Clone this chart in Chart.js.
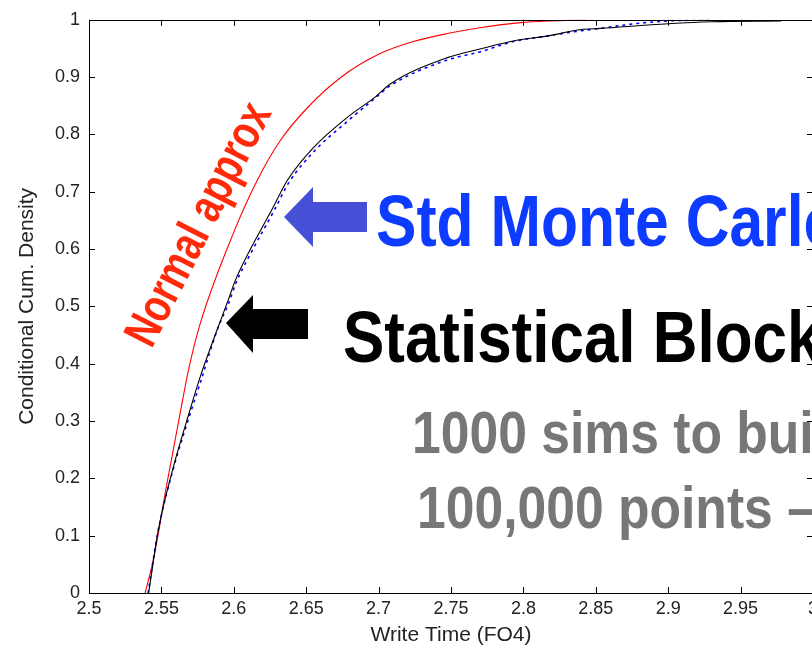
<!DOCTYPE html>
<html>
<head>
<meta charset="utf-8">
<script src="https://cdn.jsdelivr.net/npm/chart.js@4/dist/chart.umd.min.js"></script>
<style>
html,body{margin:0;padding:0;background:#fff;overflow:hidden;width:812px;height:652px;}
canvas{display:block;}
</style>
</head>
<body>
<canvas id="c" width="860" height="652"></canvas>
<script>
// ---- data ----
const xTicks = [2.5, 2.55, 2.6, 2.65, 2.7, 2.75, 2.8, 2.85, 2.9, 2.95, 3];
const xTickLabels = ["2.5","2.55","2.6","2.65","2.7","2.75","2.8","2.85","2.9","2.95","3"];
const yTicks = [0, 0.1, 0.2, 0.3, 0.4, 0.5, 0.6, 0.7, 0.8, 0.9, 1];
const yTickLabels = ["0","0.1","0.2","0.3","0.4","0.5","0.6","0.7","0.8","0.9","1"];

// Statistical Blockade (black)
const blockadeX = [2.5412, 2.5479, 2.5583, 2.5676, 2.5768, 2.5883, 2.596, 2.601, 2.611, 2.627, 2.637, 2.655, 2.678, 2.698, 2.708, 2.7476, 2.770, 2.793, 2.817, 2.84, 2.853, 2.90, 2.93, 2.978];
const blockadeY = [0, 0.110, 0.220, 0.301, 0.377, 0.458, 0.510, 0.545, 0.5976, 0.672, 0.720, 0.777, 0.829, 0.866, 0.888, 0.934, 0.949, 0.963, 0.972, 0.983, 0.985, 0.993, 0.9965, 0.998];

// Std Monte Carlo (blue, dashed)
const monteCarloX = [2.5408, 2.5477, 2.5588, 2.568, 2.5775, 2.589, 2.5965, 2.6015, 2.612, 2.628, 2.638, 2.656, 2.679, 2.697, 2.708, 2.7476, 2.770, 2.793, 2.817, 2.84, 2.853, 2.88, 2.90, 2.93];
const monteCarloY = [0, 0.108, 0.222, 0.298, 0.372, 0.462, 0.506, 0.541, 0.594, 0.668, 0.716, 0.772, 0.824, 0.862, 0.885, 0.930, 0.944, 0.962, 0.972, 0.981, 0.985, 0.994, 0.998, 1.0];

// Normal approx (red)
const normalX = [2.5387, 2.5434, 2.5479, 2.5526, 2.5572, 2.5629, 2.5687, 2.5768, 2.5996, 2.6162, 2.632, 2.651, 2.6736, 2.701, 2.724, 2.7476, 2.770, 2.798, 2.817, 2.843];
const normalY = [0, 0.046, 0.104, 0.174, 0.236, 0.313, 0.389, 0.470, 0.627, 0.720, 0.789, 0.847, 0.899, 0.941, 0.962, 0.976, 0.986, 0.995, 0.998, 1.0];

const toPts = (xs, ys) => xs.map((x, i) => ({x: x, y: ys[i]}));

const PLOT = {left: 89, top: 19, right: 813, bottom: 593};
const CW = 860, CH = 652;

const boxPlugin = {
  id: 'matlabBox',
  afterDatasetsDraw(chart) {
    const {ctx, chartArea: a, scales} = chart;
    ctx.save();
    ctx.strokeStyle = '#000';
    ctx.lineWidth = 1;
    ctx.beginPath();
    ctx.rect(Math.round(a.left) + 0.5, Math.round(a.top) + 0.5, Math.round(a.right - a.left), Math.round(a.bottom - a.top));
    ctx.stroke();
    const tl = 6;
    ctx.beginPath();
    xTicks.forEach(v => {
      const px = Math.round(scales.x.getPixelForValue(v)) + 0.5;
      ctx.moveTo(px, a.bottom); ctx.lineTo(px, a.bottom - tl);
      ctx.moveTo(px, a.top); ctx.lineTo(px, a.top + tl);
    });
    yTicks.forEach(v => {
      const py = Math.round(scales.y.getPixelForValue(v)) + 0.5;
      ctx.moveTo(a.left, py); ctx.lineTo(a.left + tl, py);
      ctx.moveTo(a.right, py); ctx.lineTo(a.right - tl, py);
    });
    ctx.stroke();
    ctx.restore();
  }
};

function drawText(ctx, text, x, y, font, color, sx) {
  ctx.save();
  ctx.translate(x, y);
  ctx.scale(sx, 1);
  ctx.font = font;
  ctx.fillStyle = color;
  ctx.textAlign = 'left';
  ctx.textBaseline = 'alphabetic';
  ctx.fillText(text, 0, 0);
  ctx.restore();
}

function drawArrow(ctx, tipX, tipY, headBackX, headTop, headBottom, shaftEndX, shaftTop, shaftBottom, color) {
  ctx.save();
  ctx.fillStyle = color;
  ctx.beginPath();
  ctx.moveTo(tipX, tipY);
  ctx.lineTo(headBackX, headTop);
  ctx.lineTo(headBackX, shaftTop);
  ctx.lineTo(shaftEndX, shaftTop);
  ctx.lineTo(shaftEndX, shaftBottom);
  ctx.lineTo(headBackX, shaftBottom);
  ctx.lineTo(headBackX, headBottom);
  ctx.closePath();
  ctx.fill();
  ctx.restore();
}

const annotPlugin = {
  id: 'annotations',
  afterDraw(chart) {
    const ctx = chart.ctx;
    const bold = (s) => 'bold ' + s + 'px "Liberation Sans", Arial, sans-serif';
    // rotated red label
    ctx.save();
    ctx.translate(200, 225);
    ctx.rotate(-63 * Math.PI / 180);
    ctx.scale(0.785, 1);
    ctx.font = bold(48);
    ctx.fillStyle = '#ff2a0a';
    ctx.textAlign = 'center';
    ctx.textBaseline = 'middle';
    ctx.fillText('Normal approx', 0, 0);
    ctx.restore();

    drawArrow(ctx, 284, 217, 313, 187, 247, 367, 202, 232, '#4650d6');
    drawArrow(ctx, 226, 323, 253, 295, 353, 308, 309, 339, '#000000');

    drawText(ctx, 'Std Monte Carlo', 376, 246, bold(73), '#0d3bff', 0.83);
    drawText(ctx, 'Statistical Blockade', 343, 362, bold(72), '#000000', 0.86);
    drawText(ctx, '1000 sims to build', 412, 453, bold(59), '#777777', 0.875);
    drawText(ctx, '100,000 points \u2013', 417, 528, bold(59), '#777777', 0.875);
  }
};

const tickFont = {family: '"Liberation Sans", Arial, sans-serif', size: 18};
const titleFont = {family: '"Liberation Sans", Arial, sans-serif', size: 21};

new Chart(document.getElementById('c'), {
  type: 'scatter',
  data: {
    datasets: [
      {label: 'Statistical Blockade', data: toPts(blockadeX, blockadeY), showLine: true, borderColor: '#000000', borderWidth: 1.1, pointRadius: 0, cubicInterpolationMode: 'monotone', fill: false},
      {label: 'Std Monte Carlo', data: toPts(monteCarloX, monteCarloY), showLine: true, borderColor: '#0000ff', borderWidth: 1.6, borderDash: [3, 4], pointRadius: 0, cubicInterpolationMode: 'monotone', fill: false},
      {label: 'Normal approx', data: toPts(normalX, normalY), showLine: true, borderColor: '#ff0000', borderWidth: 1.1, pointRadius: 0, cubicInterpolationMode: 'monotone', fill: false}
    ]
  },
  options: {
    responsive: false,
    animation: false,
    devicePixelRatio: 1,
    layout: {padding: {left: 0, top: PLOT.top, right: CW - PLOT.right, bottom: 0}},
    plugins: {legend: {display: false}, tooltip: {enabled: false}},
    scales: {
      x: {
        type: 'linear', min: 2.5, max: 3,
        grid: {display: false, drawTicks: false},
        border: {display: false},
        afterBuildTicks: (s) => { s.ticks = xTicks.map(v => ({value: v})); },
        afterFit: (s) => { s.height = CH - PLOT.bottom; },
        ticks: {color: '#222', font: tickFont, padding: 5, maxRotation: 0, autoSkip: false,
          callback: (v, i) => xTickLabels[i]},
        title: {display: true, text: 'Write Time (FO4)', color: '#222', font: titleFont, padding: {top: 0, bottom: 4}}
      },
      y: {
        type: 'linear', min: 0, max: 1,
        grid: {display: false, drawTicks: false},
        border: {display: false},
        afterBuildTicks: (s) => { s.ticks = yTicks.map(v => ({value: v})); },
        afterFit: (s) => { s.width = PLOT.left; },
        ticks: {color: '#222', font: tickFont, padding: 9, autoSkip: false,
          callback: (v, i) => yTickLabels[i]},
        title: {display: true, text: 'Conditional Cum. Density', color: '#222', font: titleFont, padding: {top: 15, bottom: 0}}
      }
    }
  },
  plugins: [boxPlugin, annotPlugin]
});
</script>
</body>
</html>
